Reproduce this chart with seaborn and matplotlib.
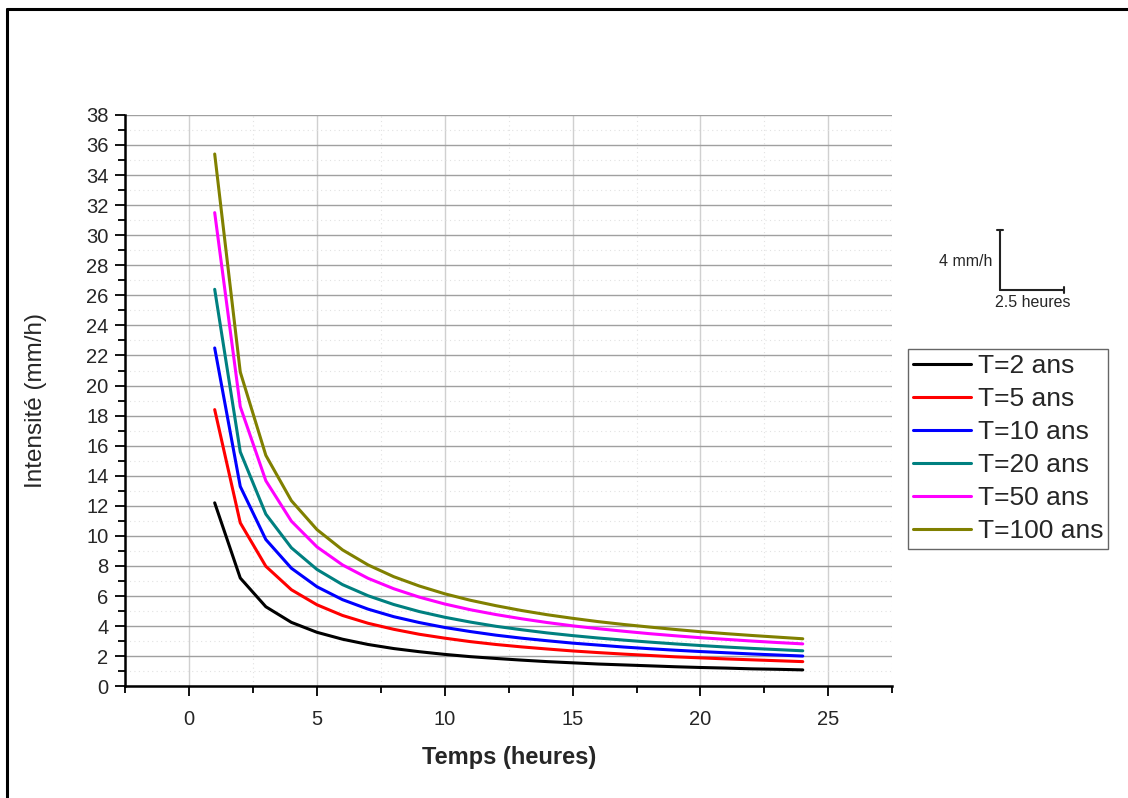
import matplotlib
matplotlib.use("Agg")
import matplotlib.pyplot as plt
from matplotlib.ticker import MultipleLocator
from matplotlib.lines import Line2D
import seaborn as sns
import pandas as pd

# ---- data ----
durations = list(range(1, 25))
labels = ["T=2 ans", "T=5 ans", "T=10 ans", "T=20 ans", "T=50 ans", "T=100 ans"]
colors = ["#000000", "#ff0000", "#0000ff", "#008080", "#ff00ff", "#808000"]

t2 = [12.20, 7.20, 5.29, 4.25, 3.59, 3.13, 2.78, 2.51, 2.30, 2.12, 1.97, 1.85,
      1.74, 1.64, 1.56, 1.48, 1.42, 1.36, 1.30, 1.25, 1.21, 1.16, 1.13, 1.09]
t5 = [18.40, 10.87, 7.98, 6.42, 5.42, 4.71, 4.19, 3.79, 3.46, 3.20, 2.97, 2.78,
      2.62, 2.48, 2.35, 2.24, 2.14, 2.05, 1.96, 1.89, 1.82, 1.76, 1.70, 1.64]
t10 = [22.50, 13.29, 9.76, 7.85, 6.62, 5.76, 5.13, 4.63, 4.24, 3.91, 3.64, 3.40,
       3.20, 3.03, 2.87, 2.74, 2.61, 2.50, 2.40, 2.31, 2.23, 2.15, 2.08, 2.01]
t20 = [26.40, 15.59, 11.45, 9.21, 7.77, 6.76, 6.02, 5.44, 4.97, 4.59, 4.27, 3.99,
       3.76, 3.55, 3.37, 3.21, 3.07, 2.94, 2.82, 2.71, 2.61, 2.52, 2.44, 2.36]
t50 = [31.50, 18.60, 13.67, 10.98, 9.27, 8.07, 7.18, 6.49, 5.93, 5.47, 5.09, 4.77,
       4.49, 4.24, 4.02, 3.83, 3.66, 3.50, 3.36, 3.23, 3.12, 3.01, 2.91, 2.82]
t100 = [35.40, 20.90, 15.36, 12.34, 10.42, 9.07, 8.07, 7.29, 6.67, 6.15, 5.72, 5.36,
        5.04, 4.76, 4.52, 4.30, 4.11, 3.94, 3.78, 3.63, 3.50, 3.38, 3.27, 3.16]
series = [t2, t5, t10, t20, t50, t100]

scale_y_label = "4 mm/h"
scale_x_label = "2.5 heures"

# ---- build long table ----
rows = []
for lab, vals in zip(labels, series):
    for d, v in zip(durations, vals):
        rows.append({"Temps": d, "Intensite": v, "Periode": lab})
df = pd.DataFrame(rows)

sns.set_style("white")
plt.rcParams["font.family"] = ["Liberation Sans", "DejaVu Sans"]

fig = plt.figure(figsize=(11.28, 7.98), dpi=100)
ax = fig.add_axes([0.111, 0.140, 0.680, 0.716])

sns.lineplot(data=df, x="Temps", y="Intensite", hue="Periode",
             hue_order=labels, palette=colors, linewidth=2.2, ax=ax,
             legend=False)

ax.set_xlim(-2.5, 27.5)
ax.set_ylim(0, 38)
ax.xaxis.set_major_locator(MultipleLocator(5))
ax.xaxis.set_minor_locator(MultipleLocator(2.5))
ax.yaxis.set_major_locator(MultipleLocator(2))
ax.yaxis.set_minor_locator(MultipleLocator(1))

ax.grid(which="major", axis="x", color="#d0d0d0", linewidth=1.0)
ax.grid(which="major", axis="y", color="#a0a0a0", linewidth=1.0)
ax.grid(which="minor", axis="both", color="#e2e2e2", linewidth=0.8, linestyle=(0, (1, 3)))
ax.set_axisbelow(True)

for s in ["top", "right"]:
    ax.spines[s].set_visible(False)
for s in ["left", "bottom"]:
    ax.spines[s].set_color("black")
    ax.spines[s].set_linewidth(1.8)

ax.tick_params(which="major", direction="out", length=7, width=1.3,
               labelsize=14.5, color="black", left=True, bottom=True)
ax.tick_params(axis="x", which="major", pad=10)
ax.tick_params(axis="y", which="major", pad=5)
ax.tick_params(which="minor", direction="out", length=5, width=1.3,
               color="black", left=True, bottom=True)

ax.set_xlabel("Temps (heures)", fontsize=17, fontweight="bold", labelpad=12)
ax.set_ylabel("Intensité (mm/h)", fontsize=17.5, labelpad=28)

# legend
handles = [Line2D([0], [0], color=c, lw=2.2) for c in colors]
leg = ax.legend(handles, labels, loc="upper left", bbox_to_anchor=(1.02, 0.59),
                fontsize=19, frameon=True, fancybox=False, handlelength=2.2,
                handletextpad=0.25, borderpad=0.2, labelspacing=0.34,
                borderaxespad=0)
leg.get_frame().set_edgecolor("#404040")
leg.get_frame().set_linewidth(1.0)

# scale bar (4 mm/h vertical, 2.5 heures horizontal) in data units
x0, y0 = 31.73, 26.35
ax.plot([x0, x0], [y0, y0 + 4], color="#222222", lw=1.5, clip_on=False)
ax.plot([x0, x0 + 2.5], [y0, y0], color="#222222", lw=1.5, clip_on=False)
ax.plot([x0 - 0.12, x0 + 0.12], [y0 + 4, y0 + 4], color="#222222", lw=1.5, clip_on=False)
ax.plot([x0 + 2.5, x0 + 2.5], [y0 - 0.2, y0 + 0.2], color="#222222", lw=1.5, clip_on=False)
ax.text(x0 - 0.3, y0 + 1.9, scale_y_label, ha="right", va="center", fontsize=11.5, clip_on=False)
ax.text(x0 + 1.25, y0 - 0.35, scale_x_label, ha="center", va="top", fontsize=11.5, clip_on=False)

# figure border (top and left)
fig.add_artist(Line2D([0.0065, 0.0065], [0.0, 0.989], transform=fig.transFigure,
                      color="black", lw=2.2))
fig.add_artist(Line2D([0.0065, 1.0], [0.989, 0.989], transform=fig.transFigure,
                      color="black", lw=2.2))

fig.savefig("out.png", dpi=100)
